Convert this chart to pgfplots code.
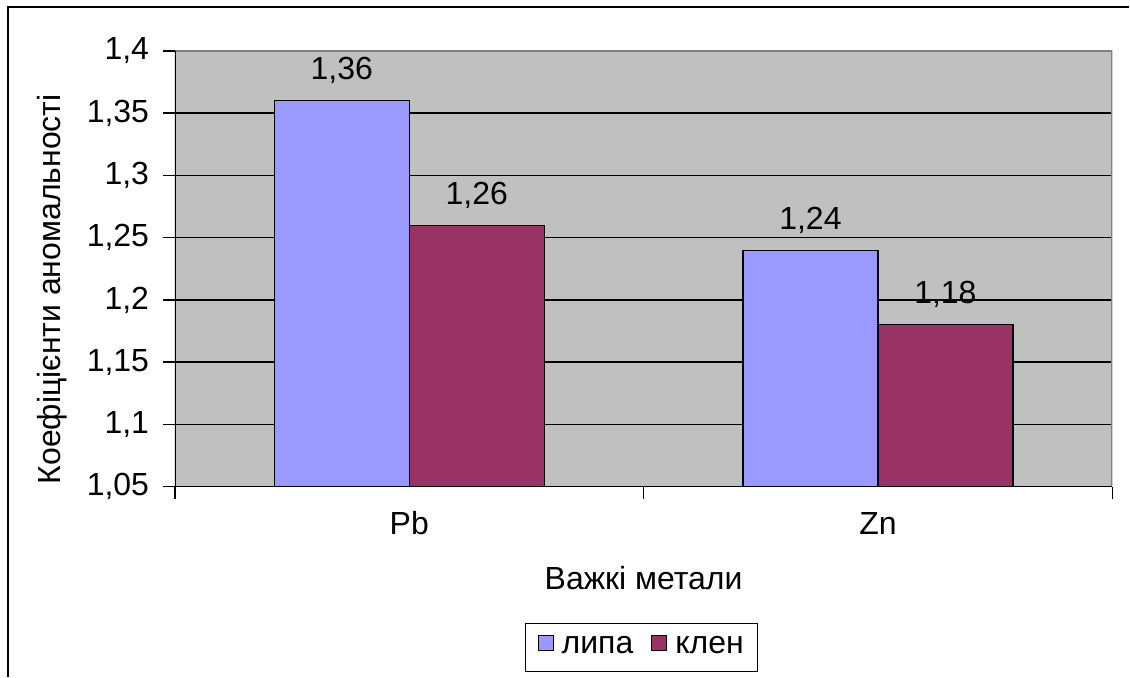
\documentclass[border=0pt]{standalone}
\usepackage{fontspec}
\setmainfont{Liberation Sans}
\usepackage{pgfplots}
\pgfplotsset{compat=1.18}
\definecolor{lilac}{HTML}{9999FF}
\definecolor{maroon}{HTML}{993366}
\definecolor{plotgray}{HTML}{C0C0C0}
\definecolor{edgegray}{HTML}{808080}
\begin{document}
\fontsize{32}{38}\selectfont
\begin{tikzpicture}[x=1pt,y=1pt]
\path (0,0) rectangle (1130,677);
\draw[line width=1.5pt] (8,0) -- (8,670) -- (1130,670);
\begin{axis}[
  at={(175pt,190pt)}, anchor=south west,
  scale only axis, width=938pt, height=436pt,
  xmin=0, xmax=2, ymin=1.05, ymax=1.4,
  ybar=0pt, bar width=0.288,
  axis background/.style={fill=plotgray},
  axis line style={draw=none},
  ymajorgrids, grid style={black, line width=1.5pt},
  ytick={1.05,1.1,1.15,1.2,1.25,1.3,1.35,1.4},
  yticklabels={{1,05},{1,1},{1,15},{1,2},{1,25},{1,3},{1,35},{1,4}},
  xtick={0,1,2}, xticklabels={},
  extra x ticks={0.5,1.5}, extra x tick labels={Pb,Zn},
  extra x tick style={major tick length=0pt, xticklabel style={anchor=base, yshift=-48pt}},
  tick pos=left, tick align=outside,
  major tick length=12pt,
  tick style={black, line width=1.5pt},
  tick label style={font=\fontsize{32}{38}\selectfont},
  yticklabel style={xshift=-3pt},
  xlabel={Важкі метали},
  ylabel={Коефіцієнти аномальності},
  label style={font=\fontsize{32}{38}\selectfont},
  xlabel style={at={(axis description cs:0.5,-0.237)}, anchor=base},
  ylabel style={at={(axis description cs:-0.131,0.453)}, anchor=center},
  /pgf/number format/assume math mode=true,
  nodes near coords,
  nodes near coords style={font=\fontsize{32}{38}\selectfont, anchor=base, yshift=21pt},
  every node near coord/.append style={/pgf/number format/.cd, fixed, fixed zerofill, precision=2, use comma, assume math mode=true},
  legend style={at={(axis description cs:0.498,-0.3126)}, anchor=north, legend columns=2, draw=black, line width=1.5pt,
    font=\fontsize{32}{38}\selectfont, inner xsep=12pt, inner ysep=11pt,
    /tikz/every odd column/.append style={column sep=6pt},
    /tikz/every even column/.append style={column sep=16pt}},
  legend image code/.code={\draw[#1, line width=1pt] (0pt,-3pt) rectangle (15pt,12pt);},
]
\addplot[fill=lilac, draw=black, line width=1.2pt] coordinates {(0.5,1.36) (1.5,1.24)};
\addplot[fill=maroon, draw=black, line width=1.2pt] coordinates {(0.5,1.26) (1.5,1.18)};
\legend{липа, клен}
\draw[edgegray, line width=2pt] (rel axis cs:0,1) -- (rel axis cs:1,1) -- (rel axis cs:1,0);
\draw[black, line width=1.5pt] (rel axis cs:0,1) -- (rel axis cs:0,0) -- (rel axis cs:1,0);
\end{axis}
\end{tikzpicture}
\end{document}
